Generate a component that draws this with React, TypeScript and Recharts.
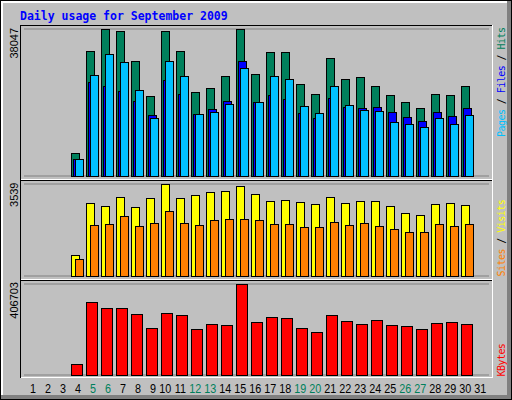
import React from 'react';
import { BarChart, Bar, XAxis, YAxis, CartesianGrid } from 'recharts';

const days = ['1','2','3','4','5','6','7','8','9','10','11','12','13','14','15','16','17','18','19','20','21','22','23','24','25','26','27','28','29','30','31'];
const weekendDays = ['5','6','12','13','19','20','26','27'];

const hits = [null,null,null,5875,32270,37900,37450,29680,20620,37450,32270,21660,22700,25800,38047,26320,32010,32010,23730,21140,30460,25020,25540,23210,20880,19070,17520,21140,20880,23210,null];
const files = [null,null,null,4350,24250,23210,21920,19330,15710,24770,21140,15970,17260,19330,29680,19100,20880,19850,16230,14930,20110,17780,17520,17780,16490,15190,14160,16490,15450,17520,null];
const pages = [null,null,null,4320,26060,31500,29430,22180,14930,29680,25800,15900,16490,18560,27870,19070,25800,25020,18040,16230,23210,18300,17000,16750,13900,13380,12600,14930,13380,15710,null];
const visits = [null,null,null,772,2806,2690,3037,2652,2999,3539,2999,3115,3231,3269,3424,3154,2883,2922,2845,2768,3037,2806,2883,2883,2690,2420,2343,2768,2806,2729,null];
const sites = [null,null,null,645,1957,1995,2304,1918,2034,2497,2034,1957,2150,2188,2188,2150,1995,1995,1880,1880,2073,1957,2034,1918,1802,1687,1687,1995,1918,1995,null];
const kbytes = [null,null,null,47980,326000,299100,299100,272200,209400,276700,267700,204900,227300,222900,406703,236300,258700,254200,209400,191500,267700,240800,227300,245300,222900,218400,204900,231800,236300,227300,null];

const maxHits = 38047;
const maxVisits = 3539;
const maxKbytes = 406703;
const grid1 = [12553, 25753];
const grid2 = [1135, 2404];
const grid3 = [127375, 274860];

const titleText = 'Daily usage for September 2009';

const data = days.map((d, i) => ({
  day: d,
  hits: hits[i],
  files: files[i],
  pages: pages[i],
  visits: visits[i],
  sites: sites[i],
  kbytes: kbytes[i],
}));

const GREEN = '#00805C';
const BLUE = '#0000FF';
const CYAN = '#00C0FF';
const YELLOW = '#FFFF00';
const ORANGE = '#FF8000';
const RED = '#FF0000';
const BG = '#C0C0C0';
const GRID = '#808080';

const DayTick = (props: any) => {
  const { x, y, payload } = props;
  const v = String(payload.value);
  const dx = v.length === 1 ? 1.5 : -1.2;
  const color = weekendDays.includes(v) ? GREEN : '#000';
  return (
    <text
      transform={`translate(${x + dx},${y + 10.3}) scale(0.8,1)`}
      textAnchor="middle"
      fill={color}
      fontFamily="'Liberation Sans', Arial, sans-serif"
      fontSize={13.5}
    >
      {v}
    </text>
  );
};

const barCommon = {
  stroke: '#000',
  strokeWidth: 1,
  isAnimationActive: false,
  shapeRendering: 'crispEdges',
} as any;

const frames = [
  { top: 25, bottom: 179 },
  { top: 180, bottom: 279 },
  { top: 280, bottom: 377 },
];

export default function App() {
  const sideFont = "'DejaVu Sans Mono', monospace";
  const numFont = "'Liberation Sans', Arial, sans-serif";
  return (
    <div style={{ position: 'absolute', left: 0, top: 0, width: 512, height: 400, background: BG, overflow: 'hidden' }}>
      <svg width={512} height={400} style={{ position: 'absolute', left: 0, top: 0 }}>
        <rect x={0} y={0} width={512} height={400} fill={BG} />
        <rect x={1} y={1} width={506} height={2} fill="#FFFFFF" />
        <rect x={1} y={1} width={2} height={394} fill="#FFFFFF" />
        <rect x={507} y={1} width={4} height={398} fill="#808080" />
        <rect x={1} y={395} width={510} height={4} fill="#808080" />
        <rect x={0.5} y={0.5} width={511} height={399} fill="none" stroke="#000" strokeWidth={1} />
        {frames.map((f, i) => (
          <g key={i} shapeRendering="crispEdges">
            <line x1={20.5} y1={f.top} x2={20.5} y2={f.bottom + 1} stroke="#000" />
            <line x1={20} y1={f.top + 0.5} x2={493} y2={f.top + 0.5} stroke="#000" />
            <line x1={492.5} y1={f.top} x2={492.5} y2={f.bottom + 1} stroke="#FFF" />
            <line x1={21} y1={f.bottom + 0.5} x2={493} y2={f.bottom + 0.5} stroke="#FFF" />
          </g>
        ))}
        <text x={20} y={19.5} fill={BLUE} fontFamily="'DejaVu Sans Mono', monospace" fontWeight="bold" fontSize={11.5}>
          {titleText}
        </text>
        <text transform="translate(18,28) rotate(-90)" textAnchor="end" fontFamily={numFont} fontSize={11} fill="#000">
          {String(maxHits)}
        </text>
        <text transform="translate(18,182.5) rotate(-90)" textAnchor="end" fontFamily={numFont} fontSize={11} fill="#000">
          {String(maxVisits)}
        </text>
        <text transform="translate(18,282) rotate(-90)" textAnchor="end" fontFamily={numFont} fontSize={11} fill="#000">
          {String(maxKbytes)}
        </text>
        <text transform="translate(505,137) rotate(-90)" fontFamily={sideFont} fontSize={10} letterSpacing={-0.55}>
          <tspan fill={CYAN}>Pages</tspan>
          <tspan fill="#000"> / </tspan>
          <tspan fill={BLUE}>Files</tspan>
          <tspan fill="#000"> / </tspan>
          <tspan fill={GREEN}>Hits</tspan>
        </text>
        <text transform="translate(505,276.5) rotate(-90)" fontFamily={sideFont} fontSize={10} letterSpacing={-0.55}>
          <tspan fill={ORANGE}>Sites</tspan>
          <tspan fill="#000"> / </tspan>
          <tspan fill={YELLOW}>Visits</tspan>
        </text>
        <text transform="translate(505,376.5) rotate(-90)" fontFamily={sideFont} fontSize={10} letterSpacing={-0.55} fill={RED}>
          KBytes
        </text>
      </svg>

      <div style={{ position: 'absolute', left: 0, top: 0 }}>
        <BarChart width={512} height={180} data={data} margin={{ top: 29, right: 23, bottom: 4, left: 24 }} barGap={-6}>
          <CartesianGrid vertical={false} stroke={GRID} />
          <XAxis dataKey="day" hide />
          <YAxis width={0} type="number" domain={[0, maxHits]} ticks={grid1} tick={false} axisLine={false} tickLine={false} />
          <Bar dataKey="hits" fill={GREEN} barSize={8} {...barCommon} />
          <Bar dataKey="files" fill={BLUE} barSize={8} {...barCommon} />
          <Bar dataKey="pages" fill={CYAN} barSize={8} {...barCommon} />
        </BarChart>
      </div>

      <div style={{ position: 'absolute', left: 0, top: 180 }}>
        <BarChart width={512} height={100} data={data} margin={{ top: 4, right: 23, bottom: 4, left: 24 }} barGap={-4}>
          <CartesianGrid vertical={false} stroke={GRID} />
          <XAxis dataKey="day" hide />
          <YAxis width={0} type="number" domain={[0, maxVisits]} ticks={grid2} tick={false} axisLine={false} tickLine={false} />
          <Bar dataKey="visits" fill={YELLOW} barSize={8} {...barCommon} />
          <Bar dataKey="sites" fill={ORANGE} barSize={8} {...barCommon} />
        </BarChart>
      </div>

      <div style={{ position: 'absolute', left: 0, top: 280 }}>
        <BarChart width={512} height={120} data={data} margin={{ top: 4, right: 23, bottom: 0, left: 24 }}>
          <CartesianGrid vertical={false} stroke={GRID} />
          <XAxis dataKey="day" height={25} axisLine={false} tickLine={false} interval={0} tick={<DayTick />} />
          <YAxis width={0} type="number" domain={[0, maxKbytes]} ticks={grid3} tick={false} axisLine={false} tickLine={false} />
          <Bar dataKey="kbytes" fill={RED} barSize={11} {...barCommon} />
        </BarChart>
      </div>
    </div>
  );
}
